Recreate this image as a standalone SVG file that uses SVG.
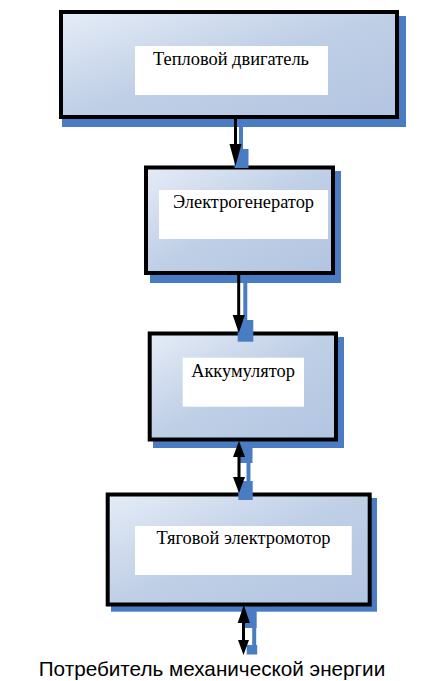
<svg xmlns="http://www.w3.org/2000/svg" width="422" height="681" viewBox="0 0 422 681">
<defs>
<linearGradient id="g" x1="0" y1="0" x2="1" y2="1">
<stop offset="0" stop-color="#e5ecf7"/>
<stop offset="0.5" stop-color="#bfcfe6"/>
<stop offset="1" stop-color="#b2c5e1"/>
</linearGradient>
<style>
.sh{fill:#4a7cc3}
.box{fill:url(#g);stroke:#000;stroke-width:4}
.in{fill:#fff}
.t{font-family:"Liberation Serif","Times New Roman",serif;font-size:18.4px;fill:#000;text-anchor:middle}
.lbl{font-family:"Liberation Sans",Arial,sans-serif;font-size:20.7px;fill:#000;text-anchor:middle}
.ln{stroke:#000;stroke-width:3}
.bl{stroke:#4a7cc3;stroke-width:4}
.ah{fill:#000}
</style>
</defs>
<g id="node1">
<rect class="sh" x="62" y="16" width="344" height="111"/>
<rect class="box" x="61" y="12" width="336" height="105"/>
<rect class="in" x="135" y="46" width="193" height="49"/>
<text class="t" x="231" y="65">Тепловой двигатель</text>
</g>
<g id="node2">
<rect class="sh" x="150" y="171" width="191" height="112"/>
<rect class="box" x="146" y="167.5" width="187" height="105.5"/>
<rect class="in" x="159" y="190" width="169" height="49"/>
<text class="t" x="243.5" y="208">Электрогенератор</text>
</g>
<g id="node3">
<rect class="sh" x="153" y="337" width="191" height="111"/>
<rect class="box" x="149.7" y="333.5" width="186.3" height="106"/>
<rect class="in" x="182.7" y="357.7" width="121.3" height="49"/>
<text class="t" x="243" y="376.7">Аккумулятор</text>
</g>
<g id="node4">
<rect class="sh" x="111" y="498" width="266" height="113.7"/>
<rect class="box" x="107.7" y="494.5" width="262" height="110"/>
<rect class="in" x="135" y="526" width="216.7" height="49"/>
<text class="t" x="243.5" y="544">Тяговой электромотор</text>
</g>
<g id="connectors">
<g id="c1">
<line class="bl" x1="241" y1="119" x2="241" y2="150"/>
<rect class="sh" x="234.5" y="149" width="14" height="19"/>
<line class="ln" x1="235.5" y1="119" x2="235.5" y2="146"/>
<polygon class="ah" points="229.5,144 241.5,144 235.5,166"/>
</g>
<g id="c2">
<line class="bl" x1="245.3" y1="275" x2="245.3" y2="321"/>
<rect class="sh" x="237.7" y="320" width="15.6" height="21.7"/>
<line class="ln" x1="238.7" y1="275" x2="238.7" y2="316"/>
<polygon class="ah" points="232.7,315 244.9,315 238.8,333"/>
</g>
<g id="c3">
<rect class="sh" x="238" y="443" width="14.5" height="20"/>
<line class="bl" x1="248.5" y1="462" x2="248.5" y2="482"/>
<rect class="sh" x="238.3" y="481" width="14.4" height="19"/>
<line class="ln" x1="239" y1="455" x2="239" y2="478"/>
<polygon class="ah" points="239,441 233,457 245,457"/>
<polygon class="ah" points="233,477 245,477 239,493"/>
</g>
<g id="c4">
<rect class="sh" x="245" y="611" width="11.7" height="17"/>
<line class="bl" x1="254.2" y1="627" x2="254.2" y2="646"/>
<rect class="sh" x="246.7" y="645" width="10.5" height="9.5"/>
<line class="ln" x1="243.5" y1="621" x2="243.5" y2="642"/>
<polygon class="ah" points="243.8,605 237.7,623 249.9,623"/>
<polygon class="ah" points="238,640 249,640 243.5,655"/>
</g>
</g>
<text class="lbl" x="212" y="676">Потребитель механической энергии</text>
</svg>
